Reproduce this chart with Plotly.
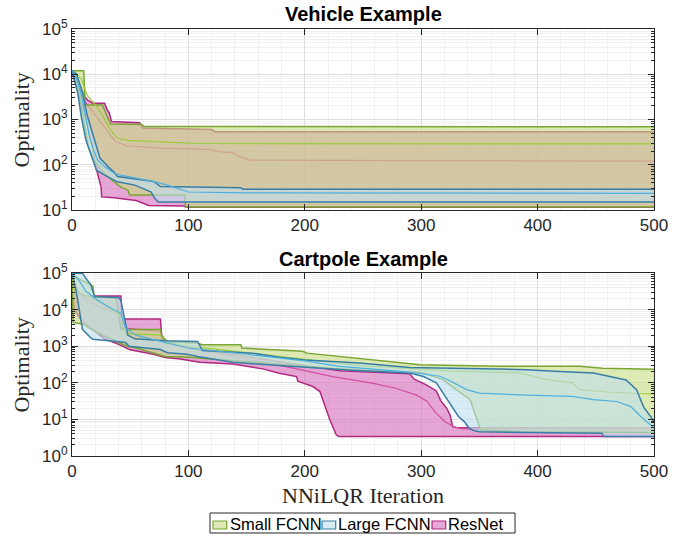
import plotly.graph_objects as go

# ---------------- Vehicle example (iteration, optimality) ----------------
veh_small_max_it = [0, 10, 11.5, 26, 28, 31, 33, 60, 62, 500]
veh_small_max = [12000, 12000, 2100, 2100, 1600, 1000, 800, 780, 700, 690]
veh_small_med_it = [0, 8, 12, 14, 19, 25, 33, 39, 48, 108, 500]
veh_small_med = [12000, 7900, 4000, 3160, 2290, 1380, 590, 380, 347, 295, 288]
veh_small_min_it = [0, 3, 6, 11, 14, 19, 25, 34, 42, 48, 49.5, 97, 97.5, 500]
veh_small_min = [12000, 7900, 3800, 690, 250, 126, 76, 46, 32, 27.5, 21.5, 21.5, 11.7, 11.7]

veh_large_max_it = [0, 4, 9, 13, 16, 19, 22, 24, 31, 36, 39, 50, 70, 76, 145, 147, 500]
veh_large_max = [12000, 10000, 3800, 1260, 690, 380, 209, 141, 91, 69, 55, 50, 42.7, 33, 31, 28.8, 28.8]
veh_large_med_it = [0, 4, 7.7, 12, 15, 18, 22, 28, 36, 42, 54, 71, 82, 100, 150, 500]
veh_large_med = [12000, 8000, 3800, 1150, 417, 229, 126, 91, 65, 59, 52, 42, 35.5, 25, 24, 23.4]
veh_large_min_it = [0, 3, 5, 8, 12, 16, 19, 21, 28, 34, 39, 54, 68, 71, 74, 500]
veh_large_min = [12000, 6300, 3800, 1150, 347, 178, 107, 76, 59, 50, 42, 35.5, 25, 18.2, 15.1, 15.1]

veh_res_max_it = [0, 4, 8, 11, 14, 18, 28, 30, 32, 34, 58, 61, 120, 123, 500]
veh_res_max = [12000, 8900, 5000, 3200, 2600, 2300, 2300, 1700, 1400, 900, 850, 650, 600, 535, 535]
veh_res_med_it = [0, 4, 9, 14, 20, 26, 32, 37, 47, 75, 101, 118, 126, 138, 144, 153, 500]
veh_res_med = [11200, 6300, 2800, 2000, 1260, 800, 500, 331, 263, 234, 224, 219, 195, 186, 151, 126, 120]
veh_res_min_it = [0, 4, 9, 14, 18, 20, 23, 25, 25.5, 36, 55, 62, 66, 96, 98, 500]
veh_res_min = [11200, 5000, 2000, 630, 224, 100, 50, 32, 19.5, 18.6, 16.2, 13.5, 12.6, 12.3, 11.5, 11.5]

# ---------------- Cartpole example (iteration, optimality) ----------------
cp_small_max_it = [0, 18, 19, 38, 40, 42, 76, 77, 82, 108, 112, 145, 146, 170, 198, 202,
                   230, 256, 299, 367, 436, 456, 500]
cp_small_max = [89000, 43600, 22900, 20000, 7900, 2880, 2880, 1860, 1350, 1200, 1100, 1100, 890,
                794, 724, 646, 525, 427, 309, 282, 282, 251, 234]
cp_small_med_it = [0, 3, 18, 30, 42, 46, 76, 80, 100, 150, 200, 247, 327, 385, 405, 430, 436,
                   460, 485, 500]
cp_small_med = [79000, 31600, 20000, 12600, 6300, 2240, 2000, 1260, 1000, 661, 447, 295, 209,
                186, 126, 100, 65, 56, 51, 50]
cp_small_min_it = [0, 1, 10, 12, 20, 40, 47, 55, 65, 73, 80, 100, 150, 200, 230, 300, 319, 330,
                   342, 347, 351, 385, 500]
cp_small_min = [63000, 4470, 3980, 3550, 2510, 1260, 1000, 891, 708, 603, 525, 500, 380, 290,
                240, 190, 120, 65, 35, 12, 5.1, 4.6, 4.4]

cp_large_max_it = [0, 9, 12, 16, 19.5, 40, 42, 44, 46, 48, 54, 80, 108, 112, 155, 178, 200, 247,
                   290, 390, 419, 448, 476, 485, 491, 500]
cp_large_max = [98000, 98000, 70800, 49000, 22400, 21400, 17800, 7900, 3550, 2000, 1585, 1410,
                1350, 760, 646, 501, 417, 347, 263, 229, 204, 186, 120, 65, 22, 8.9]
cp_large_med_it = [0, 6, 12, 20, 30, 42, 46, 55, 80, 100, 150, 200, 230, 287, 316, 325, 339, 350,
                   390, 430, 448, 468, 480, 488, 500]
cp_large_med = [98000, 63000, 31600, 20000, 12600, 7900, 3160, 2000, 1260, 891, 603, 398, 282,
                200, 151, 112, 65, 52, 46, 42.7, 34.7, 30.9, 22.4, 12.6, 5.8]
cp_large_min_it = [0, 3, 5, 8, 9, 16, 18, 34, 46, 49, 62, 76, 82, 99, 108, 138, 178, 213, 230,
                   247, 290, 302, 313, 316, 324, 332, 337, 341, 345, 350, 390, 455, 457, 500]
cp_large_min = [98000, 39800, 17400, 3550, 2880, 1700, 1550, 1380, 1260, 1000, 912, 813, 661,
                603, 525, 363, 295, 251, 229, 215, 186, 148, 100, 71, 28, 12, 8.7, 5.8, 5.0,
                4.6, 4.4, 4.2, 3.4, 3.4]

cp_res_max_it = [0, 3, 8, 14, 42, 43, 76, 77, 80, 100, 150, 200, 230, 290, 294, 304, 313, 317,
                 322, 325, 327, 330, 500]
cp_res_max = [79000, 39800, 25100, 23400, 23400, 5500, 5500, 2000, 1410, 900, 520, 300, 215, 178,
              126, 89, 60, 31.6, 20, 12.6, 6.3, 6.0, 5.8]
cp_res_med_it = [0, 5, 15, 30, 42, 44, 76, 78, 100, 150, 190, 224, 247, 260, 278, 296, 305, 312,
                 320, 328, 335, 500]
cp_res_med = [79000, 31600, 15800, 10000, 7900, 3160, 2510, 1260, 891, 450, 251, 148, 112, 95,
              71, 46, 31.6, 15.8, 8.9, 6.3, 5.5, 5.5]
cp_res_min_it = [0, 2, 8, 14, 20, 28, 40, 50, 70, 80, 93, 110, 138, 150, 164, 178, 193, 194, 207,
                 213, 216, 218.6, 221.5, 227, 229, 500]
cp_res_min = [31600, 10000, 5000, 3550, 2510, 1585, 1120, 794, 603, 490, 447, 363, 324, 282, 240,
              182, 148, 110, 79, 57.5, 31, 16.6, 9.8, 3.8, 3.4, 3.4]

series_names = ["Small FCNN", "Large FCNN", "ResNet"]
edge_colors = {"Small FCNN": "#79A532", "Large FCNN": "#3A7EA6", "ResNet": "#B0287F"}
median_colors = {"Small FCNN": "#9CCB3B", "Large FCNN": "#4CB0E0", "ResNet": "#D24FA3"}
fill_colors = {"Small FCNN": "rgba(200,222,130,0.6)", "Large FCNN": "rgba(190,223,238,0.6)",
               "ResNet": "rgba(213,108,187,0.6)"}
legend_colors = {"Small FCNN": "#DEEBB4", "Large FCNN": "#D8ECF5", "ResNet": "#E6A7D6"}

# drawing order: ResNet at the bottom, Large FCNN on top
vehicle = {
    "ResNet": (veh_res_max_it, veh_res_max, veh_res_min_it, veh_res_min, veh_res_med_it, veh_res_med),
    "Small FCNN": (veh_small_max_it, veh_small_max, veh_small_min_it, veh_small_min,
                   veh_small_med_it, veh_small_med),
    "Large FCNN": (veh_large_max_it, veh_large_max, veh_large_min_it, veh_large_min,
                   veh_large_med_it, veh_large_med),
}
cartpole = {
    "ResNet": (cp_res_max_it, cp_res_max, cp_res_min_it, cp_res_min, cp_res_med_it, cp_res_med),
    "Small FCNN": (cp_small_max_it, cp_small_max, cp_small_min_it, cp_small_min,
                   cp_small_med_it, cp_small_med),
    "Large FCNN": (cp_large_max_it, cp_large_max, cp_large_min_it, cp_large_min,
                   cp_large_med_it, cp_large_med),
}

fig = go.Figure()


def add_bands(data, xref, yref):
    for name, (mx_it, mx, mn_it, mn, md_it, md) in data.items():
        fig.add_trace(go.Scatter(x=mx_it, y=mx, mode="lines", xaxis=xref, yaxis=yref,
                                 line=dict(color=edge_colors[name], width=1.5),
                                 name=name + " max", showlegend=False, hoverinfo="skip"))
        fig.add_trace(go.Scatter(x=mn_it, y=mn, mode="lines", xaxis=xref, yaxis=yref,
                                 line=dict(color=edge_colors[name], width=1.5),
                                 fill="tonexty", fillcolor=fill_colors[name],
                                 name=name + " min", showlegend=False, hoverinfo="skip"))
        fig.add_trace(go.Scatter(x=md_it, y=md, mode="lines", xaxis=xref, yaxis=yref,
                                 line=dict(color=median_colors[name], width=1.2),
                                 name=name + " median", showlegend=False, hoverinfo="skip"))


add_bands(vehicle, "x", "y")
add_bands(cartpole, "x2", "y2")

AX = "#262626"
tick_font = dict(family="Liberation Sans, Arial, sans-serif", size=17, color=AX)
x_ticks = [0, 100, 200, 300, 400, 500]
x_minor = [v for v in range(20, 500, 20) if v % 100]


def xaxis(anchor):
    return dict(range=[0, 500], tickvals=x_ticks, ticks="inside", ticklen=6, tickcolor=AX,
                showline=True, linecolor=AX, linewidth=1, mirror="ticks",
                showgrid=True, gridcolor="#DEDEDE", zeroline=False, tickfont=tick_font,
                minor=dict(tickvals=x_minor, showgrid=True, gridcolor="#F1F1F1", ticks=""),
                anchor=anchor)


def yaxis(lo, hi, domain, anchor):
    major = [10 ** e for e in range(lo, hi + 1)]
    text = ["10<sup>%d</sup>" % e for e in range(lo, hi + 1)]
    minor = [m * 10 ** e for e in range(lo, hi) for m in range(2, 10)]
    return dict(type="log", range=[lo, hi], domain=domain, tickvals=major, ticktext=text,
                ticks="inside", ticklen=6, tickcolor=AX, showline=True, linecolor=AX,
                linewidth=1, mirror="ticks", showgrid=True, gridcolor="#DEDEDE", zeroline=False,
                tickfont=tick_font,
                minor=dict(tickvals=minor, ticks="inside", ticklen=3, tickcolor=AX,
                           showgrid=True, gridcolor="#F1F1F1"),
                anchor=anchor)


serif = dict(family="Liberation Serif, Times New Roman, serif", size=22, color=AX)
title_font = dict(family="Liberation Sans, Arial, sans-serif", size=20, color="#000000")
legend_font = dict(family="Liberation Sans, Arial, sans-serif", size=16.5, color="#000000")

annotations = [
    dict(text="<b>Vehicle Example</b>", x=0.5, y=1.035, xref="paper", yref="paper",
         showarrow=False, font=title_font, xanchor="center", yanchor="middle"),
    dict(text="<b>Cartpole Example</b>", x=0.5, y=0.462, xref="paper", yref="paper",
         showarrow=False, font=title_font, xanchor="center", yanchor="middle"),
    dict(text="NNiLQR Iteration", x=0.5, y=-0.092, xref="paper", yref="paper",
         showarrow=False, font=serif, xanchor="center", yanchor="middle"),
    dict(text="Optimality", x=-0.086, y=0.788, xref="paper", yref="paper", textangle=-90,
         showarrow=False, font=serif, xanchor="center", yanchor="middle"),
    dict(text="Optimality", x=-0.086, y=0.214, xref="paper", yref="paper", textangle=-90,
         showarrow=False, font=serif, xanchor="center", yanchor="middle"),
]

# legend box below the lower axes (paper coordinates)
shapes = [dict(type="rect", xref="paper", yref="paper", x0=0.2371, x1=0.7612,
               y0=-0.1803, y1=-0.1335, line=dict(color=AX, width=1), fillcolor="white")]
patch_x = [0.2423, 0.4296, 0.6186]
label_x = [0.2689, 0.4536, 0.6426]
for name, px, lx in zip(series_names, patch_x, label_x):
    shapes.append(dict(type="rect", xref="paper", yref="paper", x0=px, x1=px + 0.0235,
                       y0=-0.1710, y1=-0.1522, fillcolor=legend_colors[name],
                       line=dict(color=edge_colors[name], width=1.2)))
    annotations.append(dict(text=name, x=lx, y=-0.1585, xref="paper", yref="paper",
                            showarrow=False, font=legend_font, xanchor="left",
                            yanchor="middle"))

fig.update_layout(
    width=693, height=537,
    margin=dict(l=72, r=39, t=29, b=81),
    paper_bgcolor="white", plot_bgcolor="white",
    xaxis=xaxis("y"), yaxis=yaxis(1, 5, [0.5761, 1.0], "x"),
    xaxis2=xaxis("y2"), yaxis2=yaxis(0, 5, [0.0, 0.4286], "x2"),
    showlegend=False,
    annotations=annotations,
    shapes=shapes,
)

fig.write_html("out.html")
